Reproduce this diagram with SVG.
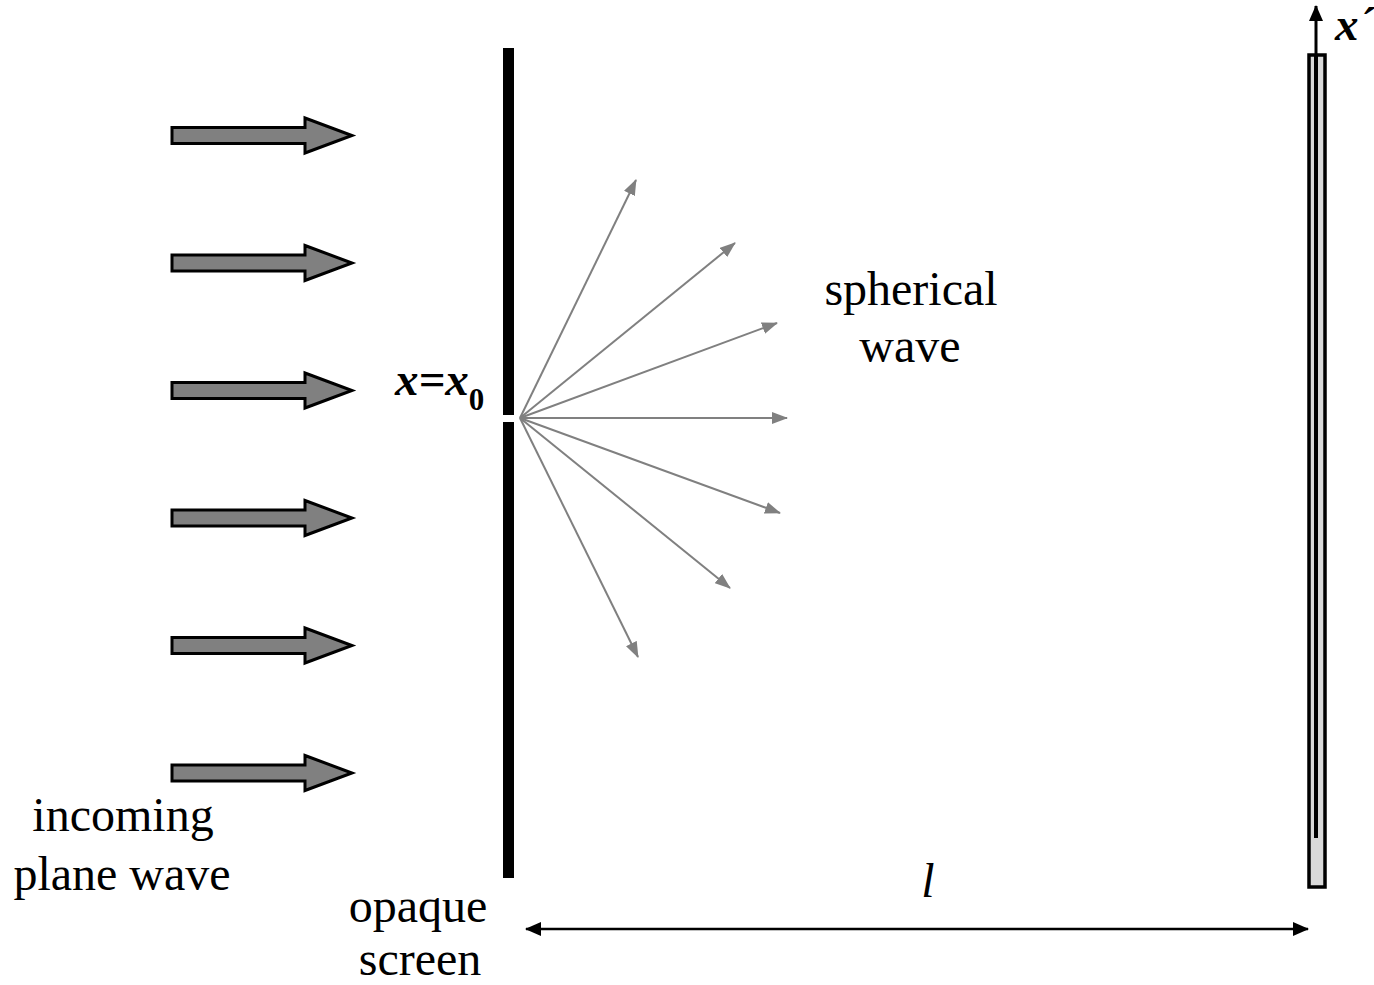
<svg xmlns="http://www.w3.org/2000/svg" width="1374" height="985" viewBox="0 0 1374 985">
<defs>
<style>
.lbl{font-family:"Liberation Serif","Times New Roman",serif;font-size:48px;fill:#000;text-anchor:middle}
.math{font-family:"Liberation Serif","Times New Roman",serif;font-size:47px;font-weight:bold;font-style:italic;fill:#000}
.big{fill:#808080;stroke:#000;stroke-width:3;stroke-linejoin:miter}
.ray{stroke:#808080;stroke-width:2;fill:none;marker-end:url(#gh)}
</style>
<marker id="gh" viewBox="0 0 16 12" refX="15" refY="6" markerWidth="16" markerHeight="12" markerUnits="userSpaceOnUse" orient="auto">
<path d="M0,0 L16,6 L0,12 Z" fill="#808080"/>
</marker>
<marker id="bh" viewBox="0 0 16 14" refX="15" refY="7" markerWidth="16" markerHeight="14" markerUnits="userSpaceOnUse" orient="auto-start-reverse">
<path d="M0,0 L16,7 L0,14 Z" fill="#000"/>
</marker>
<path id="bigarrow" class="big" d="M0,-8 L133,-8 L133,-17.5 L180,0 L133,17.5 L133,8 L0,8 Z"/>
</defs>
<rect width="1374" height="985" fill="#fff"/>
<g id="incoming-wave">
<use href="#bigarrow" x="172" y="135.5"/>
<use href="#bigarrow" x="172" y="263"/>
<use href="#bigarrow" x="172" y="390.5"/>
<use href="#bigarrow" x="172" y="518"/>
<use href="#bigarrow" x="172" y="645.5"/>
<use href="#bigarrow" x="172" y="773"/>
</g>
<g id="screen">
<rect x="503" y="48" width="11" height="367" fill="#000"/>
<rect x="503" y="422" width="11" height="456" fill="#000"/>
</g>
<g id="detector">
<rect x="1309" y="55" width="16" height="832" fill="#d9d9d9" stroke="#000" stroke-width="3.5"/>
<line x1="1316" y1="55" x2="1316" y2="838" stroke="#000" stroke-width="4"/>
</g>
<g id="connectors">
<line class="ray" x1="520" y1="418" x2="636" y2="180"/>
<line class="ray" x1="520" y1="418" x2="735" y2="243"/>
<line class="ray" x1="520" y1="418" x2="777" y2="323"/>
<line class="ray" x1="520" y1="418" x2="787" y2="418"/>
<line class="ray" x1="520" y1="418" x2="780" y2="513"/>
<line class="ray" x1="520" y1="418" x2="730" y2="588"/>
<line class="ray" x1="520" y1="418" x2="638" y2="657"/>
<line x1="1316" y1="55" x2="1316" y2="6" stroke="#000" stroke-width="3" marker-end="url(#bh)"/>
<line x1="526" y1="929" x2="1308" y2="929" stroke="#000" stroke-width="2.5" marker-start="url(#bh)" marker-end="url(#bh)"/>
</g>
<g id="labels">
<text class="lbl" x="123" y="831">incoming</text>
<text class="lbl" x="122" y="890">plane wave</text>
<text class="lbl" x="418" y="922">opaque</text>
<text class="lbl" x="420" y="975">screen</text>
<text class="lbl" x="911" y="305">spherical</text>
<text class="lbl" x="910" y="362">wave</text>
<text class="lbl" x="928" y="897" font-style="italic">l</text>
<text class="math" x="395" y="395">x=x<tspan font-size="31" font-style="normal" dy="15">0</tspan></text>
<text class="math" x="1335" y="40">x´</text>
</g>
</svg>
